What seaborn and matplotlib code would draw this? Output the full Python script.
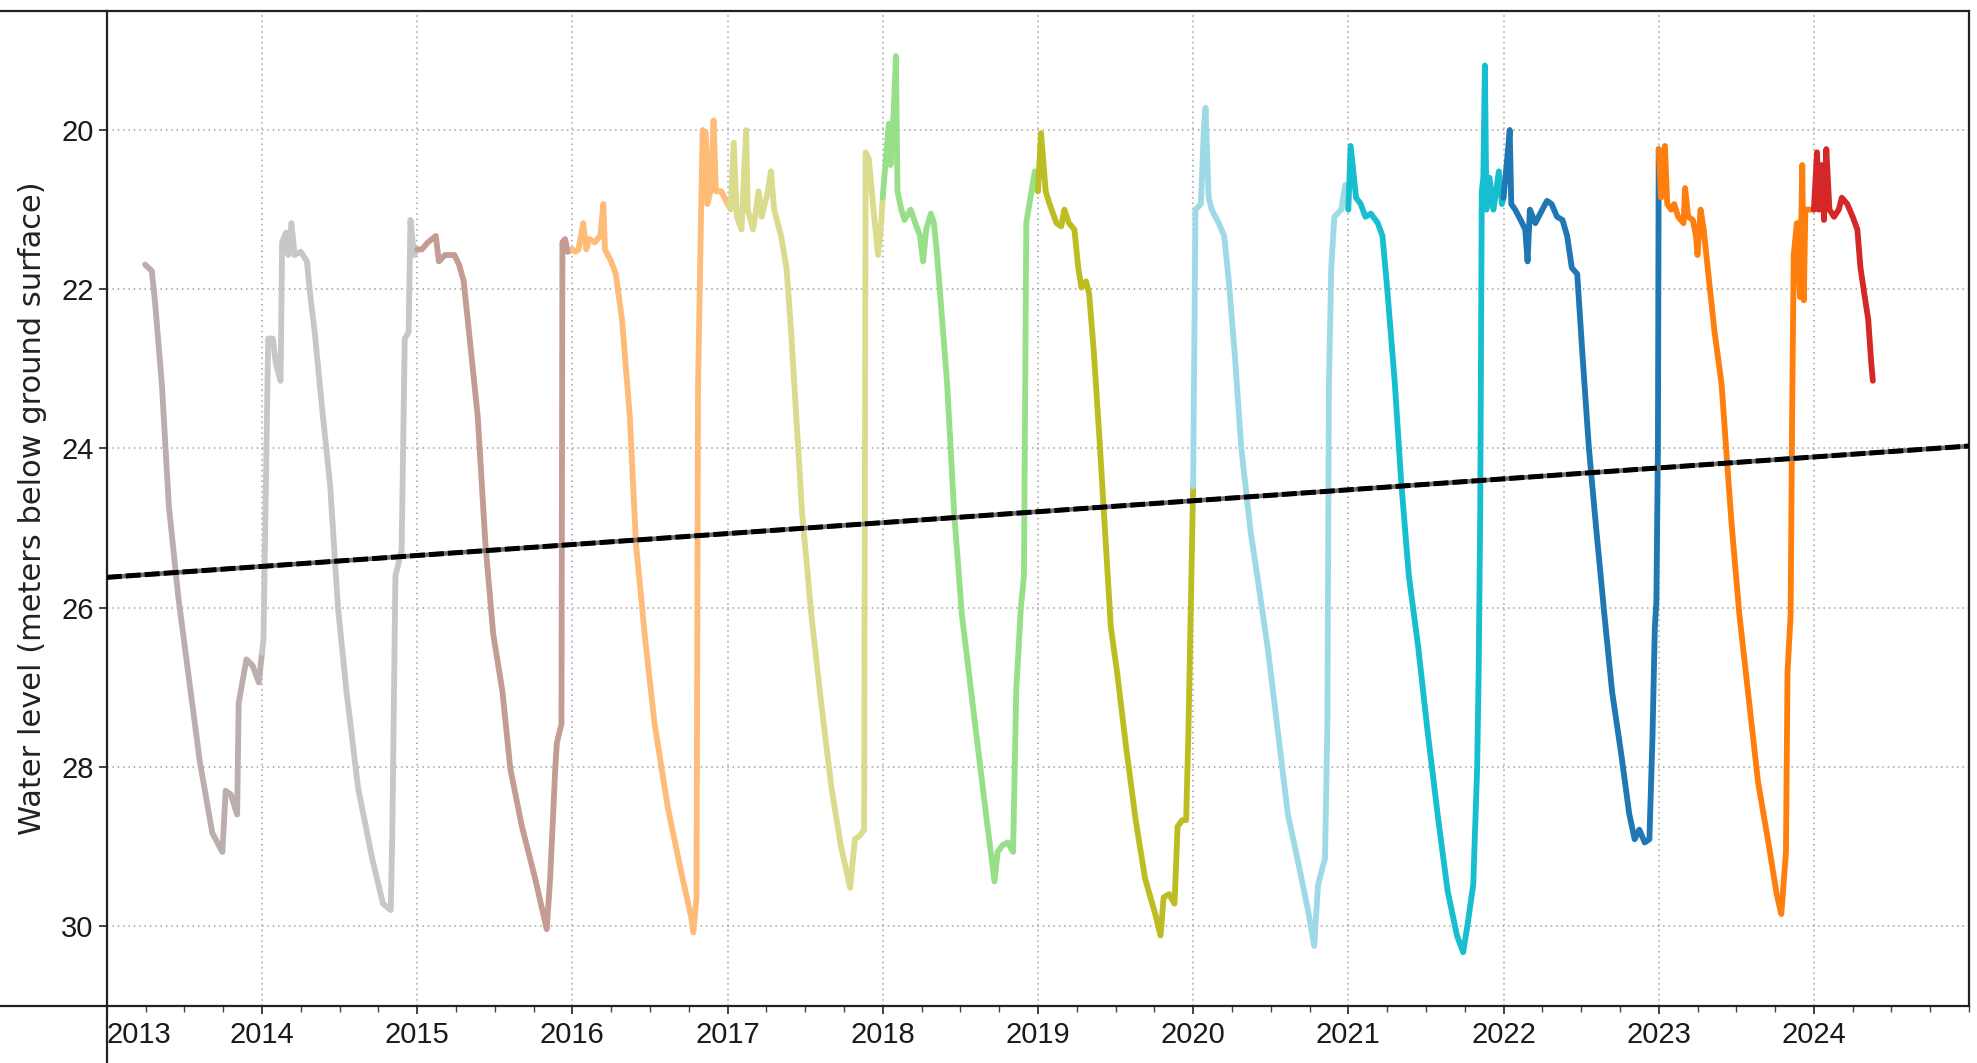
import numpy as np
import pandas as pd
import matplotlib
matplotlib.use("Agg")
import matplotlib.pyplot as plt
import seaborn as sns
from matplotlib.lines import Line2D
from matplotlib.ticker import MultipleLocator

# ---------------- data ----------------
t_2013 = [2013.247, 2013.29, 2013.31, 2013.355, 2013.40, 2013.46, 2013.53, 2013.60, 2013.68, 2013.745,
          2013.766, 2013.80, 2013.84, 2013.85, 2013.90, 2013.94, 2013.98, 2014.0]
l_2013 = [21.69, 21.77, 22.14, 23.19, 24.72, 25.85, 26.9, 27.94, 28.83, 29.07,
          28.3, 28.35, 28.6, 27.2, 26.65, 26.73, 26.94, 26.57]

t_2014 = [2014.0, 2014.01, 2014.04, 2014.07, 2014.09, 2014.12, 2014.13, 2014.155, 2014.17, 2014.19,
          2014.21, 2014.25, 2014.29, 2014.31, 2014.34, 2014.38, 2014.44, 2014.49, 2014.545, 2014.62,
          2014.71, 2014.78, 2014.83, 2014.84, 2014.86, 2014.90, 2014.92, 2014.945, 2014.957, 2014.98, 2015.0]
l_2014 = [26.57, 26.4, 22.62, 22.62, 22.94, 23.15, 21.41, 21.29, 21.57, 21.17,
          21.57, 21.53, 21.65, 22.06, 22.54, 23.35, 24.48, 26.0, 27.06, 28.27,
          29.15, 29.72, 29.8, 28.83, 25.6, 25.28, 22.62, 22.54, 21.13, 21.57, 21.5]

t_2015 = [2015.0, 2015.03, 2015.07, 2015.12, 2015.14, 2015.18, 2015.24, 2015.27, 2015.30, 2015.33,
          2015.39, 2015.44, 2015.49, 2015.55, 2015.60, 2015.675, 2015.76, 2015.835, 2015.857, 2015.89,
          2015.90, 2015.93, 2015.936, 2015.953, 2015.97, 2016.0]
l_2015 = [21.5, 21.5, 21.41, 21.33, 21.65, 21.57, 21.57, 21.69, 21.9, 22.46,
          23.59, 25.2, 26.33, 27.06, 28.02, 28.75, 29.4, 30.04, 29.4, 28.02,
          27.7, 27.46, 21.41, 21.37, 21.53, 21.5]

t_2016 = [2016.0, 2016.02, 2016.04, 2016.07, 2016.09, 2016.11, 2016.145, 2016.18, 2016.20, 2016.21,
          2016.25, 2016.28, 2016.32, 2016.37, 2016.41, 2016.47, 2016.53, 2016.615, 2016.70, 2016.765,
          2016.78, 2016.80, 2016.81, 2016.83, 2016.84, 2016.86, 2016.87, 2016.89, 2016.91, 2016.925,
          2016.96, 2017.0]
l_2016 = [21.5, 21.53, 21.5, 21.17, 21.5, 21.37, 21.41, 21.33, 20.93, 21.5,
          21.65, 21.81, 22.38, 23.59, 25.2, 26.41, 27.46, 28.51, 29.31, 29.88,
          30.08, 29.64, 23.2, 21.0, 20.0, 20.04, 20.93, 20.77, 19.88, 20.77,
          20.77, 20.93]

t_2017 = [2017.0, 2017.02, 2017.04, 2017.06, 2017.09, 2017.12, 2017.13, 2017.165, 2017.20, 2017.22,
          2017.26, 2017.28, 2017.30, 2017.345, 2017.38, 2017.41, 2017.45, 2017.48, 2017.54, 2017.60,
          2017.67, 2017.73, 2017.79, 2017.82, 2017.85, 2017.88, 2017.89, 2017.91, 2017.94, 2017.97,
          2017.99, 2018.0]
l_2017 = [20.93, 21.0, 20.16, 21.09, 21.25, 20.0, 21.0, 21.25, 20.77, 21.09,
          20.77, 20.52, 21.0, 21.33, 21.73, 22.54, 23.83, 24.8, 26.09, 27.14,
          28.27, 28.99, 29.52, 28.91, 28.87, 28.79, 20.28, 20.36, 21.0, 21.57,
          21.17, 20.85]

t_2018 = [2018.0, 2018.02, 2018.04, 2018.05, 2018.07, 2018.085, 2018.095, 2018.12, 2018.14, 2018.18,
          2018.21, 2018.24, 2018.26, 2018.28, 2018.31, 2018.33, 2018.35, 2018.37, 2018.415, 2018.46,
          2018.51, 2018.58, 2018.665, 2018.72, 2018.74, 2018.77, 2018.805, 2018.84, 2018.86, 2018.89,
          2018.91, 2018.925, 2018.945, 2018.98, 2019.0]
l_2018 = [20.85, 20.36, 19.92, 20.44, 19.8, 19.07, 20.77, 21.0, 21.13, 21.0,
          21.17, 21.33, 21.65, 21.25, 21.05, 21.17, 21.57, 22.06, 23.19, 24.8,
          26.09, 27.22, 28.59, 29.44, 29.07, 28.99, 28.95, 29.07, 27.06, 26.0,
          25.6, 21.17, 20.93, 20.52, 20.77]

t_2019 = [2019.0, 2019.02, 2019.05, 2019.075, 2019.12, 2019.15, 2019.17, 2019.20, 2019.235, 2019.26,
          2019.28, 2019.31, 2019.33, 2019.36, 2019.395, 2019.43, 2019.47, 2019.51, 2019.57, 2019.63,
          2019.69, 2019.76, 2019.79, 2019.81, 2019.845, 2019.88, 2019.90, 2019.93, 2019.955, 2019.97,
          2020.0]
l_2019 = [20.77, 20.04, 20.77, 20.93, 21.17, 21.21, 21.0, 21.17, 21.25, 21.73,
          21.98, 21.9, 22.06, 22.78, 23.83, 24.96, 26.25, 26.81, 27.78, 28.67,
          29.4, 29.88, 30.12, 29.64, 29.6, 29.72, 28.75, 28.67, 28.67, 27.54,
          24.48]

t_2020 = [2020.0, 2020.015, 2020.05, 2020.07, 2020.08, 2020.10, 2020.12, 2020.165, 2020.20, 2020.23,
          2020.27, 2020.31, 2020.37, 2020.42, 2020.485, 2020.55, 2020.61, 2020.68, 2020.74, 2020.78,
          2020.805, 2020.85, 2020.865, 2020.875, 2020.89, 2020.91, 2020.955, 2020.98, 2021.0]
l_2020 = [24.48, 21.0, 20.93, 19.96, 19.72, 20.85, 21.0, 21.17, 21.33, 21.9,
          22.86, 23.99, 25.04, 25.69, 26.57, 27.62, 28.59, 29.23, 29.8, 30.25,
          29.48, 29.15, 27.46, 23.19, 21.73, 21.09, 21.0, 20.69, 21.0]

t_2021 = [2021.0, 2021.015, 2021.05, 2021.08, 2021.11, 2021.145, 2021.19, 2021.22, 2021.25, 2021.30,
          2021.34, 2021.39, 2021.45, 2021.51, 2021.58, 2021.64, 2021.70, 2021.74, 2021.77, 2021.805,
          2021.83, 2021.84, 2021.85, 2021.86, 2021.87, 2021.88, 2021.89, 2021.91, 2021.935, 2021.97,
          2021.99, 2022.0]
l_2021 = [21.0, 20.2, 20.85, 20.93, 21.09, 21.05, 21.17, 21.33, 21.98, 23.19,
          24.4, 25.6, 26.49, 27.54, 28.67, 29.56, 30.12, 30.33, 29.96, 29.48,
          28.02, 26.81, 24.8, 20.77, 20.6, 19.19, 21.0, 20.6, 21.0, 20.52,
          20.93, 20.85]

t_2022 = [2022.0, 2022.02, 2022.04, 2022.05, 2022.075, 2022.11, 2022.14, 2022.155, 2022.17, 2022.205,
          2022.25, 2022.28, 2022.31, 2022.345, 2022.38, 2022.41, 2022.44, 2022.475, 2022.51, 2022.55,
          2022.595, 2022.65, 2022.70, 2022.76, 2022.81, 2022.845, 2022.875, 2022.91, 2022.94, 2022.96,
          2022.975, 2022.985, 2022.995, 2023.0]
l_2022 = [20.85, 20.44, 20.0, 20.93, 21.0, 21.13, 21.25, 21.65, 21.0, 21.17,
          21.0, 20.89, 20.93, 21.09, 21.13, 21.33, 21.73, 21.81, 22.86, 23.99,
          24.96, 26.09, 27.06, 27.86, 28.59, 28.91, 28.79, 28.95, 28.91, 27.62,
          26.25, 25.93, 23.99, 20.24]

t_2023 = [2023.0, 2023.015, 2023.04, 2023.055, 2023.08, 2023.10, 2023.125, 2023.16, 2023.17, 2023.19,
          2023.22, 2023.24, 2023.25, 2023.27, 2023.29, 2023.32, 2023.36, 2023.405, 2023.44, 2023.47,
          2023.52, 2023.58, 2023.64, 2023.71, 2023.76, 2023.79, 2023.82, 2023.83, 2023.85, 2023.86,
          2023.87, 2023.89, 2023.91, 2023.925, 2023.935, 2023.945, 2023.98, 2024.0]
l_2023 = [20.24, 20.85, 20.2, 20.93, 21.0, 20.93, 21.09, 21.17, 20.73, 21.09,
          21.13, 21.33, 21.57, 21.0, 21.25, 21.81, 22.54, 23.19, 24.15, 24.96,
          26.09, 27.14, 28.19, 28.99, 29.6, 29.85, 29.07, 26.81, 26.09, 23.51,
          21.57, 21.17, 22.1, 20.44, 22.14, 21.0, 21.0, 21.0]

t_2024 = [2024.0, 2024.02, 2024.03, 2024.05, 2024.065, 2024.08, 2024.10, 2024.13, 2024.16, 2024.18,
          2024.215, 2024.25, 2024.28, 2024.30, 2024.325, 2024.35, 2024.37, 2024.38]
l_2024 = [21.0, 20.28, 21.0, 20.44, 21.13, 20.24, 21.0, 21.09, 21.0, 20.85,
          20.93, 21.09, 21.25, 21.73, 22.06, 22.38, 22.94, 23.15]

segment_years = [2013, 2014, 2015, 2016, 2017, 2018, 2019, 2020, 2021, 2022, 2023, 2024]
segment_times = [t_2013, t_2014, t_2015, t_2016, t_2017, t_2018, t_2019, t_2020, t_2021, t_2022, t_2023, t_2024]
segment_levels = [l_2013, l_2014, l_2015, l_2016, l_2017, l_2018, l_2019, l_2020, l_2021, l_2022, l_2023, l_2024]
segment_colors = ["#bdaeae", "#c7c7c7", "#c49c94", "#ffbb78", "#dbdb8d", "#98df8a",
                  "#bcbd22", "#9edae5", "#17becf", "#1f77b4", "#ff7f0e", "#d62728"]

trend_t = [2013.0, 2025.0]
trend_level = [25.62, 23.97]

x_tick_years = list(range(2013, 2025))
y_ticks = [20, 22, 24, 26, 28, 30]
y_label = "Water level (meters below ground surface)"

# ---------------- figure ----------------
sns.set_theme(style="white")
plt.rcParams["font.family"] = ["Liberation Sans", "DejaVu Sans"]

W, H, DPI = 1977, 1063, 100
fig = plt.figure(figsize=(W / DPI, H / DPI), dpi=DPI)
L, R, B, T = 0.054, 0.996, 0.054, 0.99
ax = fig.add_axes([L, B, R - L, T - B])

rows = []
for yr, ts, ls in zip(segment_years, segment_times, segment_levels):
    for t, l in zip(ts, ls):
        rows.append((yr, t, l))
df = pd.DataFrame(rows, columns=["segment", "time", "level"])

palette = dict(zip(segment_years, segment_colors))
sns.lineplot(data=df, x="time", y="level", hue="segment", palette=palette,
             estimator=None, sort=False, legend=False, linewidth=4.2, ax=ax)

trend = pd.DataFrame({"time": trend_t, "level": trend_level})
sns.lineplot(data=trend, x="time", y="level", color="#6e6e6e", linewidth=3.2, ax=ax)
ax.plot(trend["time"], trend["level"], color="black", linewidth=3.6,
        dashes=(3.0, 0.8), zorder=5)

ax.set_xlim(2013, 2025)
ax.set_ylim(31.0, 18.5)
ax.set_xticks(x_tick_years)
ax.set_xticklabels([str(y) for y in x_tick_years])
ax.xaxis.set_minor_locator(MultipleLocator(0.25))
ax.set_yticks(y_ticks)
ax.set_yticklabels([str(v) for v in y_ticks])

ax.grid(True, which="major", color="#a0a0a0", linestyle=(0, (1, 2.5)), linewidth=1.1)
ax.tick_params(axis="both", which="major", labelsize=21, length=6, width=1.2,
               color="#222222", labelcolor="#1a1a1a", direction="out", bottom=True, left=True)
ax.tick_params(axis="x", which="minor", length=4, width=1, color="#444444", bottom=True)
ax.tick_params(axis="x", which="major", pad=5)
ax.get_xticklabels()[0].set_horizontalalignment("left")

ax.set_xlabel("")
ax.set_ylabel(y_label, fontsize=22, color="#222222", labelpad=10,
              family=["DejaVu Sans"])

for s in ax.spines.values():
    s.set_color("#222222")
    s.set_linewidth(1.6)
    s.set_visible(True)

# frame lines extending to the figure edge (as in the screenshot)
fig.add_artist(Line2D([0, L], [T, T], transform=fig.transFigure, color="#222222", linewidth=1.6))
fig.add_artist(Line2D([0, L], [B, B], transform=fig.transFigure, color="#222222", linewidth=1.6))
fig.add_artist(Line2D([L, L], [0, B], transform=fig.transFigure, color="#222222", linewidth=1.6))

fig.savefig("out.png", dpi=DPI, facecolor="white")
